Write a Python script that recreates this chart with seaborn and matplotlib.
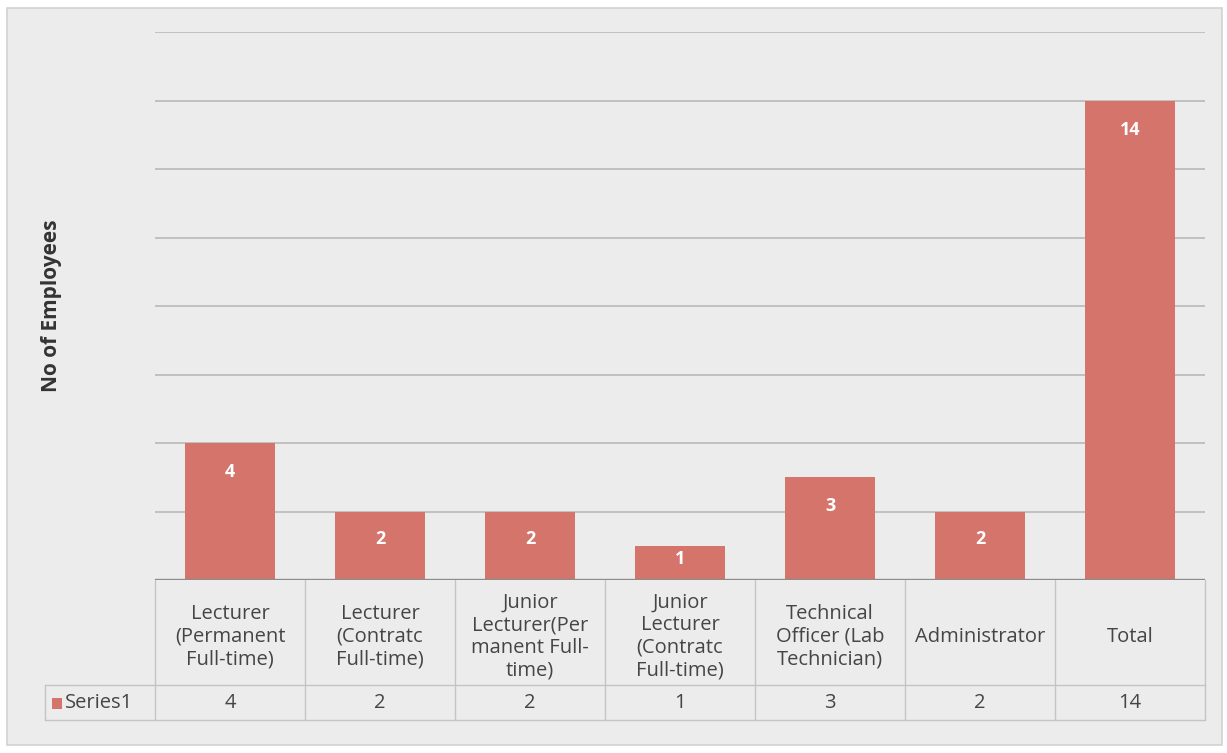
import matplotlib
matplotlib.use("Agg")
import matplotlib.pyplot as plt
import seaborn as sns
import pandas as pd
from matplotlib.patches import Rectangle
from matplotlib.transforms import blended_transform_factory

categories = [
    "Lecturer\n(Permanent\nFull-time)",
    "Lecturer\n(Contratc\nFull-time)",
    "Junior\nLecturer(Per\nmanent Full-\ntime)",
    "Junior\nLecturer\n(Contratc\nFull-time)",
    "Technical\nOfficer (Lab\nTechnician)",
    "Administrator",
    "Total",
]
values = [4, 2, 2, 1, 3, 2, 14]
series_name = "Series1"
y_label = "No of Employees"

sns.set_theme(style="white")
plt.rcParams["font.family"] = ["Open Sans", "DejaVu Sans"]

W, H = 1227, 753
fig = plt.figure(figsize=(W / 100, H / 100), dpi=100, facecolor="white")

# chart panel background
fig.patches.append(Rectangle((7 / W, 1 - 745 / H), (1222 - 7) / W, (745 - 8) / H,
                             transform=fig.transFigure, facecolor="#ececec",
                             edgecolor="#d2d2d2", linewidth=1.2, zorder=-10))

left, right, top, base = 155, 1205, 32, 580
ax = fig.add_axes([left / W, 1 - base / H, (right - left) / W, (base - top) / H])
ax.set_facecolor("none")

df = pd.DataFrame({"cat": categories, "val": values})
sns.barplot(data=df, x="cat", y="val", color="#d4746a", saturation=1, width=0.6,
            linewidth=0, ax=ax, zorder=3)
ax.set_xlim(-0.5, len(categories) - 0.5)
ax.set_ylim(0, 16)
ax.set_yticks(range(0, 17, 2))
ax.yaxis.grid(True, color="#bdbdbd", linewidth=1.3)
ax.set_axisbelow(True)
ax.tick_params(left=False, bottom=False, labelleft=False, labelbottom=False)
for s in ax.spines.values():
    s.set_visible(False)
ax.axhline(0, color="#8c8c8c", linewidth=2.4, zorder=4)
ax.set_xlabel("")
ax.set_ylabel("")

# value labels inside bars (inside end)
for i, v in enumerate(values):
    ax.text(i, v - min(0.85, 0.4 * v), str(v), ha="center", va="center", color="white",
            fontsize=13, fontweight="bold", zorder=5)

# y-axis label
fig.text(52 / W, 1 - 306 / H, y_label, rotation=90, ha="center", va="center",
         fontsize=15, fontweight="bold", color="#333333")

# data table
tr = blended_transform_factory(ax.transData, fig.transFigure)
def fy(py):
    return 1 - py / H

cat_top, cat_bot, row_bot = 580, 685, 720
line_kw = dict(color="#c4c4c4", linewidth=1.0, clip_on=False)
n = len(categories)
for k in range(n + 1):
    x = k - 0.5
    ax.plot([x, x], [fy(cat_top), fy(row_bot)], transform=tr, **line_kw)
ax.plot([-0.5, n - 0.5], [fy(cat_bot), fy(cat_bot)], transform=tr, **line_kw)
ax.plot([-0.5, n - 0.5], [fy(row_bot), fy(row_bot)], transform=tr, **line_kw)
# left cell for series name
fig.lines.append(plt.Line2D([45 / W, left / W], [fy(cat_bot), fy(cat_bot)],
                            transform=fig.transFigure, color="#c4c4c4", lw=1.0))
fig.lines.append(plt.Line2D([45 / W, left / W], [fy(row_bot), fy(row_bot)],
                            transform=fig.transFigure, color="#c4c4c4", lw=1.0))
fig.lines.append(plt.Line2D([45 / W, 45 / W], [fy(cat_bot), fy(row_bot)],
                            transform=fig.transFigure, color="#c4c4c4", lw=1.0))

for i, c in enumerate(categories):
    ax.text(i, fy((cat_top + cat_bot) / 2 + 4), c, transform=tr, ha="center", va="center",
            fontsize=14.5, color="#454545", linespacing=1.17)
    ax.text(i, fy((cat_bot + row_bot) / 2 + 1), str(values[i]), transform=tr, ha="center",
            va="center", fontsize=14.5, color="#454545")

fig.patches.append(Rectangle((52 / W, fy(709)), 10 / W, 11 / H, transform=fig.transFigure,
                             facecolor="#d4746a", edgecolor="none"))
fig.text(65 / W, fy((cat_bot + row_bot) / 2 + 1), series_name, ha="left", va="center",
         fontsize=14.5, color="#454545")

fig.savefig("out.png", dpi=100, facecolor="white")
